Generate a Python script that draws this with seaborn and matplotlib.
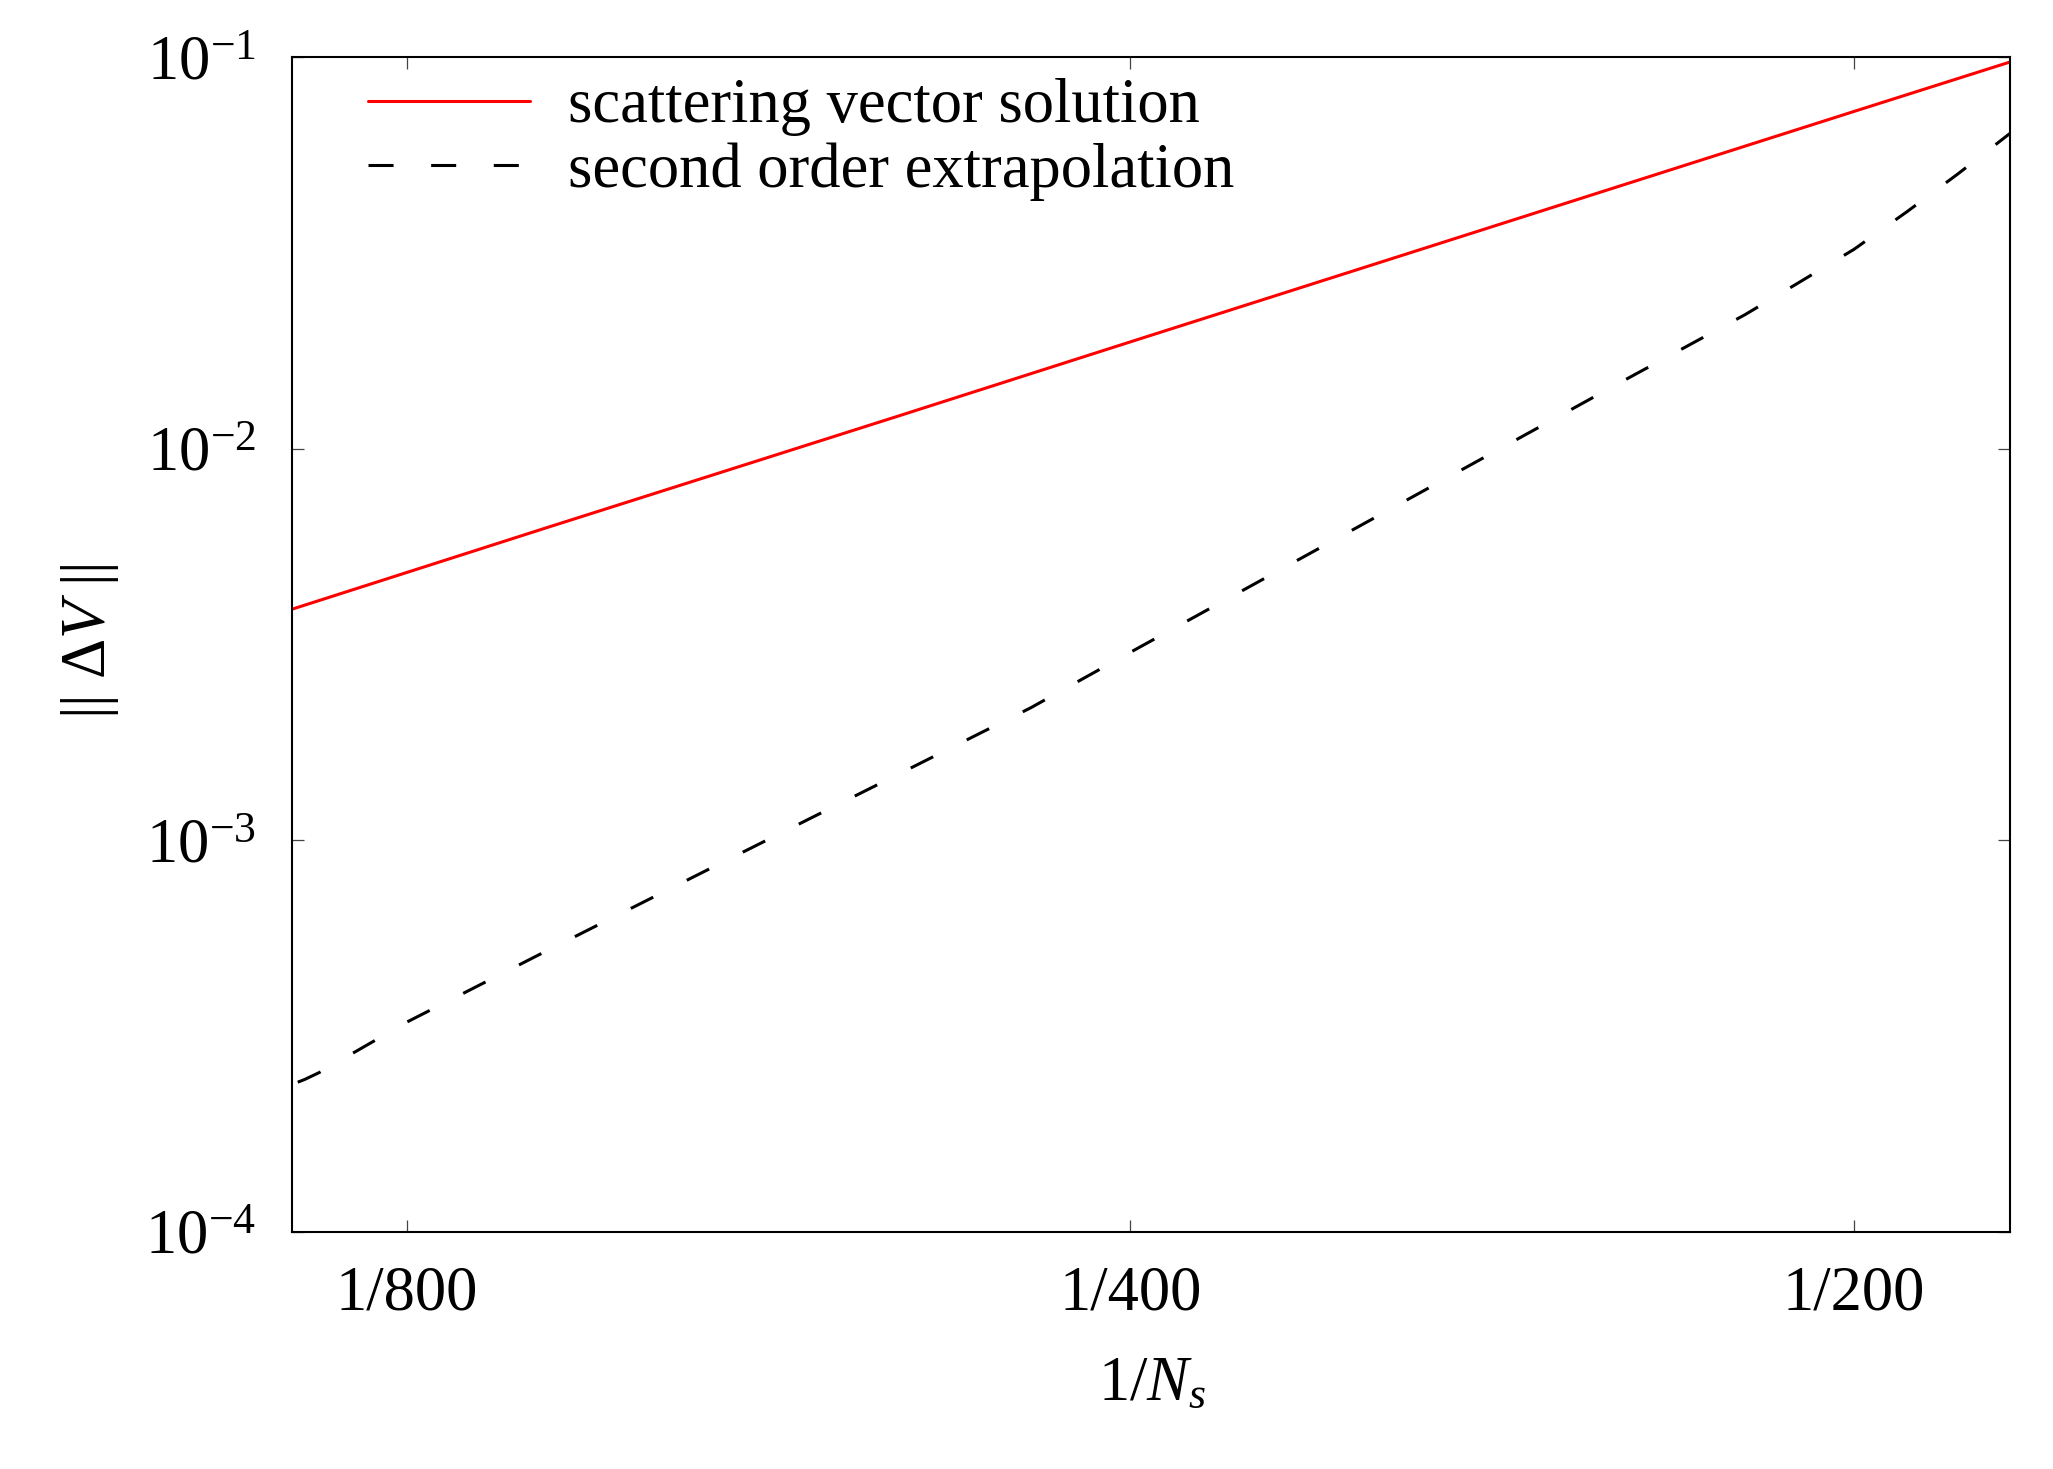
import matplotlib
matplotlib.use("Agg", force=True)
import matplotlib.pyplot as plt
import matplotlib.ticker as mticker
import pandas as pd
import seaborn as sns

# values (N_s, ||dV||)
ns_red = [892, 800, 700, 600, 500, 400, 300, 250, 200, 172]
dv_red = [3.90e-3, 4.83e-3, 6.28e-3, 8.48e-3, 1.21e-2, 1.875e-2, 3.29e-2, 4.70e-2, 7.27e-2, 9.75e-2]

ns_dash = [888, 882, 870, 800, 700, 600, 500, 440, 400, 300, 250, 222, 211, 200, 190, 181, 172]
dv_dash = [2.41e-4, 2.45e-4, 2.55e-4, 3.43e-4, 5.21e-4, 8.39e-4, 1.47e-3, 2.18e-3, 3.02e-3,
           7.99e-3, 1.48e-2, 2.20e-2, 2.65e-2, 3.23e-2, 4.04e-2, 5.04e-2, 6.43e-2]

x_ticks_n = [800, 400, 200]
x_tick_labels = ["1/800", "1/400", "1/200"]
y_ticks = [1e-4, 1e-3, 1e-2, 1e-1]
y_tick_labels = [r"$10^{-4}$", r"$10^{-3}$", r"$10^{-2}$", r"$10^{-1}$"]

sns.set_theme(style="ticks")
plt.rcParams["font.family"] = ["Liberation Serif", "DejaVu Serif"]
plt.rcParams["mathtext.fontset"] = "custom"
plt.rcParams["mathtext.rm"] = "Liberation Serif"
plt.rcParams["mathtext.it"] = "Liberation Serif:italic"
plt.rcParams["mathtext.bf"] = "Liberation Serif:bold"
for key in ["text.color", "axes.labelcolor", "xtick.color", "ytick.color", "axes.edgecolor"]:
    plt.rcParams[key] = "black"

red = pd.DataFrame({"x": [1 / n for n in ns_red], "y": dv_red})
dash = pd.DataFrame({"x": [1 / n for n in ns_dash], "y": dv_dash})

fig = plt.figure(figsize=(20.53, 14.69), dpi=100)
ax = fig.add_axes([0.1424, 0.1615, 0.8367, 0.7995])

sns.lineplot(data=red, x="x", y="y", color="#ff0000", linewidth=2.2,
             label="scattering vector solution", estimator=None, ax=ax)
sns.lineplot(data=dash, x="x", y="y", color="black", linewidth=2.2,
             linestyle=(0, (8.2, 12.3)), label="second order extrapolation",
             estimator=None, ax=ax)

ax.set_xscale("log")
ax.set_yscale("log")
ax.set_xlim(1 / 892.6, 1 / 172.2)
ax.set_ylim(1e-4, 1e-1)

ax.xaxis.set_major_locator(mticker.FixedLocator([1 / n for n in x_ticks_n]))
ax.xaxis.set_major_formatter(mticker.FixedFormatter(x_tick_labels))
ax.xaxis.set_minor_locator(mticker.NullLocator())
ax.yaxis.set_major_locator(mticker.FixedLocator(y_ticks))
ax.yaxis.set_major_formatter(mticker.FixedFormatter(y_tick_labels))
ax.yaxis.set_minor_locator(mticker.NullLocator())

ax.tick_params(axis="both", which="major", direction="in", length=8.6, width=0.9,
               color="#444444", labelcolor="black", top=True, right=True, labelsize=45)
ax.tick_params(axis="x", pad=24)
ax.tick_params(axis="y", pad=26)
for sp in ax.spines.values():
    sp.set_linewidth(1.5)
    sp.set_color("black")

ax.set_xlabel(r"$1/N_s$", fontsize=45)
ax.set_ylabel(r"$||\ \Delta V\ ||$", fontsize=45)
ax.xaxis.set_label_coords(0.5005, -0.106)
ax.yaxis.set_label_coords(-0.100, 0.503)

ax.legend(loc="upper left", bbox_to_anchor=(0.044, 0.982), frameon=False,
          fontsize=45, handlelength=2.59, handletextpad=0.61, labelspacing=0.1,
          borderaxespad=0, borderpad=0)

fig.savefig("out.png", dpi=100)
